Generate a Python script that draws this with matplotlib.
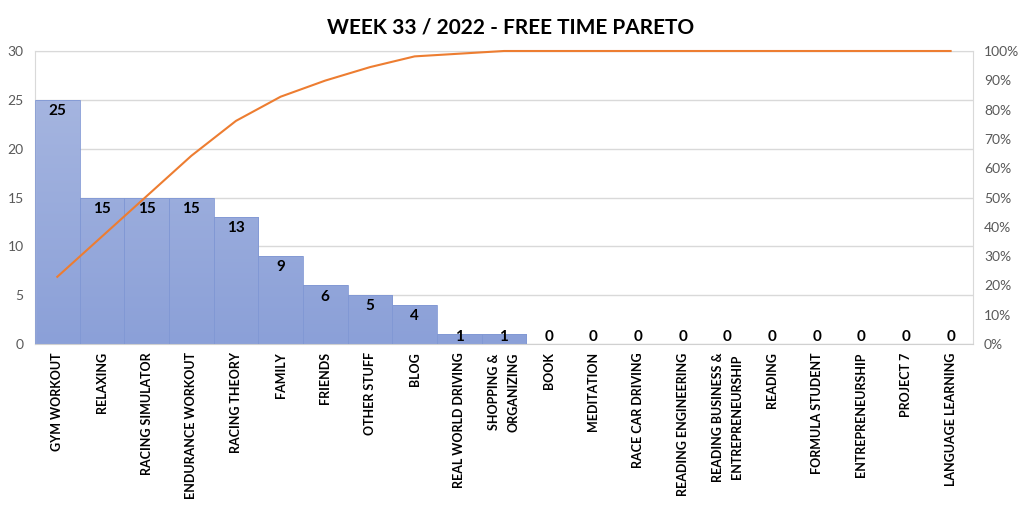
import numpy as np
import matplotlib.pyplot as plt
from matplotlib.colors import LinearSegmentedColormap
from matplotlib.ticker import MultipleLocator, PercentFormatter

plt.rcParams['font.family'] = ['Lato', 'DejaVu Sans']

# Week 33 free time activities (hours)
categories = ['GYM WORKOUT', 'RELAXING', 'RACING SIMULATOR', 'ENDURANCE WORKOUT',
              'RACING THEORY', 'FAMILY', 'FRIENDS', 'OTHER STUFF', 'BLOG',
              'REAL WORLD DRIVING', 'SHOPPING &\nORGANIZING', 'BOOK', 'MEDITATION',
              'RACE CAR DRIVING', 'READING ENGINEERING',
              'READING BUSINESS &\nENTREPRENEURSHIP', 'READING', 'FORMULA STUDENT',
              'ENTREPRENEURSHIP', 'PROJECT 7', 'LANGUAGE LEARNING']
hours = [25, 15, 15, 15, 13, 9, 6, 5, 4, 1, 1, 0, 0, 0, 0, 0, 0, 0, 0, 0, 0]

# cumulative share for the pareto line
cum_pct = np.cumsum(hours) / np.sum(hours) * 100

fig = plt.figure(figsize=(10.22, 5.08), dpi=100)
ax = fig.add_axes([0.0342, 0.3228, 0.9178, 0.5768])
x = np.arange(len(categories))

bars = ax.bar(x, hours, width=1.0, color='none', edgecolor='#8198d4', linewidth=0.6, zorder=3)

# vertical gradient fill, lighter at the top
cmap = LinearSegmentedColormap.from_list('grad', ['#8ba0d8', '#aab9e1'])
grad = np.linspace(0, 1, 256).reshape(-1, 1)
for b in bars:
    if b.get_height() <= 0:
        continue
    im = ax.imshow(grad, cmap=cmap, origin='lower', aspect='auto',
                   extent=[-0.5, len(categories) - 0.5, 0, 30], zorder=2)
    im.set_clip_path(b)

ax.set_xlim(-0.5, len(categories) - 0.5)
ax.set_ylim(0, 30)
ax.yaxis.set_major_locator(MultipleLocator(5))
ax.grid(axis='y', color='#d9d9d9', linewidth=1, zorder=0)
ax.set_axisbelow(True)
for side in ['left', 'right', 'top']:
    ax.spines[side].set_color('#d9d9d9')
ax.spines['bottom'].set_color('#d0d0d0')
ax.tick_params(axis='y', length=0, labelsize=10, labelcolor='#595959', pad=8)
ax.tick_params(axis='x', length=0, pad=6)
ax.set_xticks(x)
ax.set_xticklabels(categories, rotation=90, fontsize=9, fontweight='bold',
                   va='top', ha='center', multialignment='center')
for lbl in ax.get_xticklabels():
    lbl.set_linespacing(1.7)

# value labels just inside the top of each bar
for i, v in enumerate(hours):
    ax.text(i, max(v - 1.15, 0.75), str(v), ha='center', va='center',
            fontsize=11, fontweight='bold', color='black', zorder=5)

ax2 = ax.twinx()
ax2.plot(x, cum_pct, color='#ed7d31', linewidth=1.5, zorder=4, clip_on=False)
ax2.set_ylim(0, 100)
ax2.yaxis.set_major_locator(MultipleLocator(10))
ax2.yaxis.set_major_formatter(PercentFormatter(decimals=0))
ax2.tick_params(axis='y', length=0, labelsize=10, labelcolor='#595959', pad=8)
for side in ['left', 'right', 'top', 'bottom']:
    ax2.spines[side].set_visible(False)

fig.suptitle('WEEK 33 / 2022 - FREE TIME PARETO', y=0.965, fontsize=15, fontweight='bold')

fig.savefig('out.png', dpi=100)
